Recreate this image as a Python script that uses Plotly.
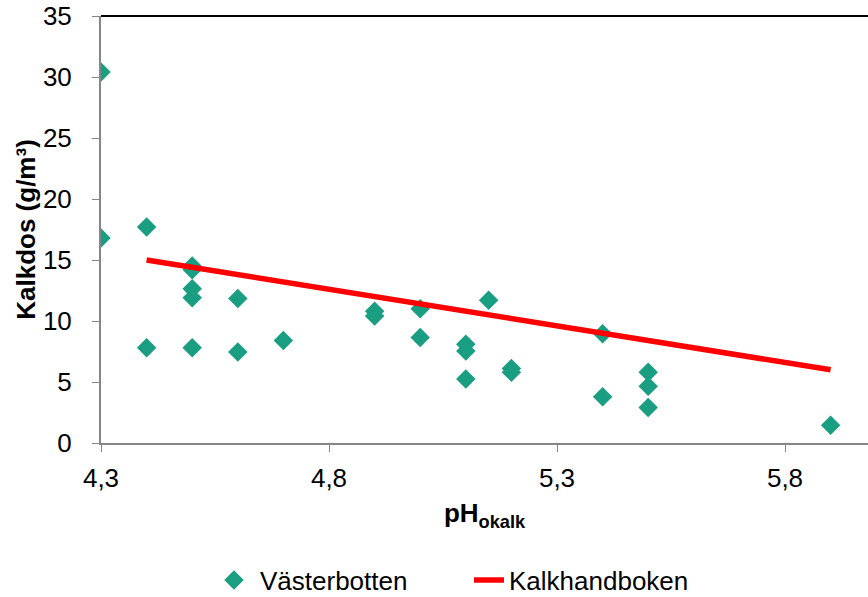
import plotly.graph_objects as go

# Västerbotten observations
ph_vb = [4.3, 4.3, 4.4, 4.4, 4.5, 4.5, 4.5, 4.5, 4.5, 4.6, 4.6, 4.7,
         4.9, 4.9, 5.0, 5.0, 5.1, 5.1, 5.1, 5.15, 5.2, 5.2, 5.4, 5.4,
         5.5, 5.5, 5.5, 5.9]
dos_vb = [30.4, 16.8, 17.7, 7.8, 14.5, 14.2, 12.65, 11.9, 7.8, 11.85, 7.45, 8.4,
          10.8, 10.4, 11.0, 8.65, 8.1, 7.55, 5.25, 11.7, 6.1, 5.8, 8.95, 3.8,
          5.8, 4.65, 2.9, 1.45]

# Kalkhandboken reference line
ph_kh = [4.4, 5.9]
dos_kh = [15.0, 6.0]

x_ticks = [4.3, 4.8, 5.3, 5.8]
y_ticks = [0, 5, 10, 15, 20, 25, 30, 35]

FONT = "Liberation Sans, Arial, sans-serif"

fig = go.Figure()
fig.add_trace(go.Scatter(
    x=ph_vb, y=dos_vb, mode="markers", name="Västerbotten",
    marker=dict(symbol="diamond", size=15, color="#1a9e82"),
    legend="legend",
))
fig.add_trace(go.Scatter(
    x=ph_kh, y=dos_kh, mode="lines", name="Kalkhandboken",
    line=dict(color="#ff0000", width=5.5),
    legend="legend2",
))

leg_common = dict(orientation="h", yanchor="middle", y=-0.3208, xanchor="left",
                  font=dict(family=FONT, size=26), bgcolor="rgba(0,0,0,0)",
                  borderwidth=0)

fig.update_layout(
    width=868, height=597,
    margin=dict(l=101, r=0, t=16, b=154, autoexpand=False),
    paper_bgcolor="white", plot_bgcolor="white",
    separators=", ",
    font=dict(family=FONT, size=26, color="black"),
    showlegend=True,
    legend=dict(x=(208 - 101) / 767, itemwidth=42, **leg_common),
    legend2=dict(x=(469 - 101) / 767, itemwidth=30, **leg_common),
    xaxis=dict(range=[4.3, 4.3 + 767 / 456], tickvals=x_ticks,
               ticktext=[f"{v:.1f}".replace(".", ",") for v in x_ticks],
               tickfont=dict(family=FONT, size=26),
               showgrid=False, zeroline=False, showline=True, linecolor="#868686",
               linewidth=2, ticks="outside", ticklen=7, tickcolor="#868686",
               ticklabelstandoff=4,
               title=dict(text="<b>pH<sub>okalk</sub></b>",
                          font=dict(family=FONT, size=26), standoff=12)),
    yaxis=dict(range=[0, 35], tickvals=y_ticks, showgrid=False, zeroline=False,
               tickfont=dict(family=FONT, size=26), ticklabeloverflow="allow",
               showline=True, linecolor="#868686", linewidth=2, ticks="outside",
               ticklen=7, tickcolor="#868686", ticklabelstandoff=15,
               title=dict(text="<b>Kalkdos (g/m³)</b>",
                          font=dict(family=FONT, size=26), standoff=0)),
    shapes=[dict(type="line", xref="paper", yref="paper", x0=0, x1=1, y0=1, y1=1,
                 line=dict(color="black", width=2))],
)

fig.write_html("out.html", config={"displayModeBar": False},
               post_script="document.body.style.margin='0';document.body.style.overflow='hidden';")
